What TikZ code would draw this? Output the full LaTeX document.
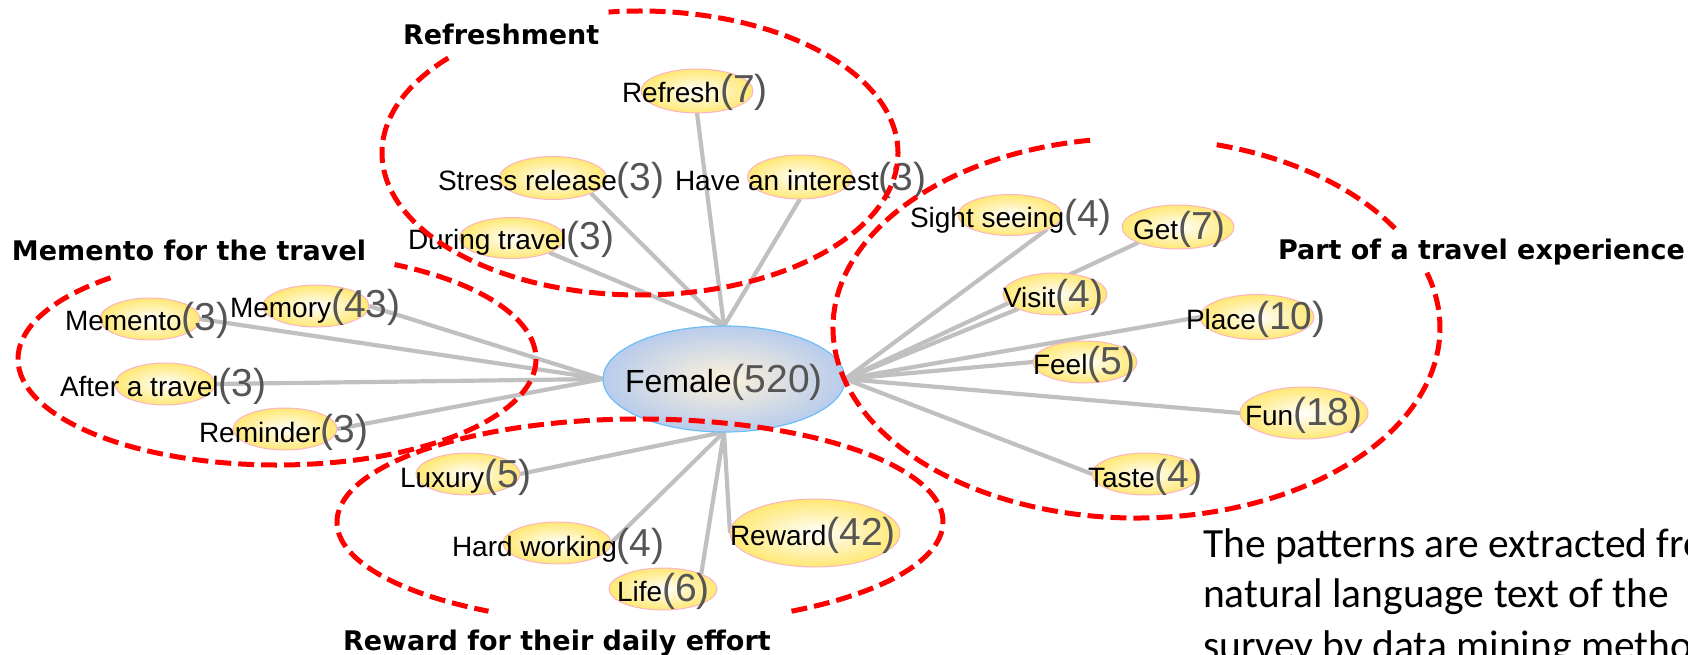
\documentclass[tikz,border=0pt]{standalone}
\usepackage{fontspec}
\setmainfont{Liberation Sans}
\newfontfamily\ttlfont{DejaVu Sans}
\newfontfamily\notefont{Carlito}
\usetikzlibrary{shapes.geometric,backgrounds}
\definecolor{numgray}{RGB}{85,85,85}
\definecolor{bubyel}{RGB}{255,232,115}
\definecolor{bubpink}{RGB}{250,180,195}
\definecolor{femblue}{RGB}{184,204,236}
\definecolor{femcream}{RGB}{255,242,218}
\definecolor{femedge}{RGB}{110,190,245}
\definecolor{edgegray}{RGB}{192,192,192}
\definecolor{grpred}{RGB}{255,0,0}
\newcommand\cnt[1]{{\color{numgray}\fontsize{39}{44}\selectfont #1}}
\begin{document}
\begin{tikzpicture}[x=1pt,y=-1pt,
  bub/.style={ellipse, draw=bubpink, line width=1pt, inner color=white, outer color=bubyel, inner sep=0pt, outer sep=0pt},
  lbl/.style={anchor=base west, inner sep=0pt, outer sep=0pt, font=\fontsize{28}{32}\selectfont},
  link/.style={draw=edgegray, line width=4.2pt},
  grp/.style={draw=grpred, line width=5pt, dash pattern=on 16pt off 7pt},
  ttl/.style={anchor=base west, inner sep=0pt, outer sep=0pt, font=\ttlfont\bfseries\fontsize{27}{32}\selectfont},
  note/.style={anchor=base west, inner sep=0pt, outer sep=0pt, font=\notefont\fontsize{41.5}{50}\selectfont}]
\useasboundingbox (0,0) rectangle (1688,655);
\clip (0,0) rectangle (1688,655);

% central node
\node[ellipse, draw=femedge, line width=1.2pt, inner color=femcream, outer color=femblue,
      minimum width=242pt, minimum height=106pt, inner sep=0pt, outer sep=0pt] (fem) at (724,379) {};

% bubbles
\node[bub, minimum width=112pt, minimum height=44pt] (refr) at (697,91) {};
\node[bub, minimum width=107pt, minimum height=43pt] (stre) at (553,178) {};
\node[bub, minimum width=105pt, minimum height=44pt] (intr) at (800,177) {};
\node[bub, minimum width=105pt, minimum height=41pt] (durt) at (512,238) {};
\node[bub, minimum width=100pt, minimum height=42pt] (meme) at (150,319) {};
\node[bub, minimum width=106pt, minimum height=42pt] (memo) at (316,306) {};
\node[bub, minimum width=100pt, minimum height=42pt] (aftr) at (165,384) {};
\node[bub, minimum width=104pt, minimum height=42pt] (remi) at (285,429) {};
\node[bub, minimum width=104pt, minimum height=42pt] (luxu) at (468,474) {};
\node[bub, minimum width=108pt, minimum height=42pt] (hard) at (557,543) {};
\node[bub, minimum width=108pt, minimum height=42pt] (life) at (663,589) {};
\node[bub, minimum width=170pt, minimum height=68pt] (rewd) at (815,533) {};
\node[bub, minimum width=104pt, minimum height=41pt] (sigh) at (1010,215) {};
\node[bub, minimum width=112pt, minimum height=44pt] (getn) at (1178,227) {};
\node[bub, minimum width=104pt, minimum height=42pt] (visi) at (1055,294) {};
\node[bub, minimum width=114pt, minimum height=45pt] (plac) at (1257,317) {};
\node[bub, minimum width=104pt, minimum height=42pt] (feel) at (1085,362) {};
\node[bub, minimum width=128pt, minimum height=52pt] (funn) at (1304,413) {};
\node[bub, minimum width=108pt, minimum height=42pt] (tast) at (1146,474) {};

% labels
\node[lbl, font=\fontsize{32}{36}\selectfont] (fem-t) at (625,392) {Female\cnt{(520)}};
\node[lbl] (refr-t) at (622,103) {Refresh\cnt{(7)}};
\node[lbl] (stre-t) at (438,191) {Stress release\cnt{(3)}};
\node[lbl] (intr-t) at (675,191) {Have an interest\cnt{(3)}};
\node[lbl] (durt-t) at (408,249) {During travel\cnt{(3)}};
\node[lbl] (meme-t) at (65,330) {Memento\cnt{(3)}};
\node[lbl] (memo-t) at (230,317) {Memory\cnt{(43)}};
\node[lbl] (aftr-t) at (60,396) {After a travel\cnt{(3)}};
\node[lbl] (remi-t) at (199,442) {Reminder\cnt{(3)}};
\node[lbl] (luxu-t) at (400,487) {Luxury\cnt{(5)}};
\node[lbl] (hard-t) at (452,556) {Hard working\cnt{(4)}};
\node[lbl] (life-t) at (617,601) {Life\cnt{(6)}};
\node[lbl] (rewd-t) at (730,545) {Reward\cnt{(42)}};
\node[lbl] (sigh-t) at (910,227) {Sight seeing\cnt{(4)}};
\node[lbl] (getn-t) at (1133,239) {Get\cnt{(7)}};
\node[lbl] (visi-t) at (1003,307) {Visit\cnt{(4)}};
\node[lbl] (plac-t) at (1186,329) {Place\cnt{(10)}};
\node[lbl] (feel-t) at (1033,374) {Feel\cnt{(5)}};
\node[lbl] (funn-t) at (1245,425) {Fun\cnt{(18)}};
\node[lbl] (tast-t) at (1088,487) {Taste\cnt{(4)}};

% connectors
\begin{scope}[on background layer]
\path[link] (fem.north) -- (refr.south);
\path[link] (fem.north) -- (stre.south east);
\path[link] (fem.north) -- (intr.south);
\path[link] (fem.north) -- (durt.south east);
\path[link] (fem.west) -- (meme.east);
\path[link] (fem.west) -- (memo.east);
\path[link] (fem.west) -- (aftr.east);
\path[link] (fem.west) -- (remi.east);
\path[link] (fem.south) -- (luxu.east);
\path[link] (fem.south) -- (hard.east);
\path[link] (fem.south) -- (life.north east);
\path[link] (fem.south) -- (rewd.west);
\path[link] (fem.east) -- (sigh.south east);
\path[link] (fem.east) -- (getn.south west);
\path[link] (fem.east) -- (visi.south west);
\path[link] (fem.east) -- (plac.west);
\path[link] (fem.east) -- (feel.west);
\path[link] (fem.east) -- (funn.west);
\path[link] (fem.east) -- (tast.west);
\end{scope}

% group outlines
\draw[grp] ([shift={(138:258pt and 142pt)}]640,153) arc[start angle=138, end angle=457, x radius=258pt, y radius=142pt];
\draw[grp] ([shift={(130:259pt and 106pt)}]277,359) arc[start angle=130, end angle=423, x radius=259pt, y radius=106pt];
\draw[grp] ([shift={(-60:303pt and 103pt)}]640,522) arc[start angle=-60, end angle=240, x radius=303pt, y radius=103pt];
\draw[grp] ([shift={(31.6:303.5pt and 190pt)}]1136.5,328) arc[start angle=31.6, end angle=75.8, x radius=303.5pt, y radius=190pt];
\draw[grp] ([shift={(98.8:303.5pt and 190pt)}]1136.5,328) arc[start angle=98.8, end angle=377.4, x radius=303.5pt, y radius=190pt];

% group titles
\node[ttl] (t-refr) at (403,45) {Refreshment};
\node[ttl] (t-meme) at (12,260) {Memento for the travel};
\node[ttl] (t-rewd) at (343,650) {Reward for their daily effort};
\node[ttl] (t-part) at (1278,259) {Part of a travel experience};

% note
\node[note] (nt1) at (1203,557) {The patterns are extracted from};
\node[note] (nt2) at (1203,607) {natural language text of the};
\node[note] (nt3) at (1203,659) {survey by data mining method};
\end{tikzpicture}
\end{document}
